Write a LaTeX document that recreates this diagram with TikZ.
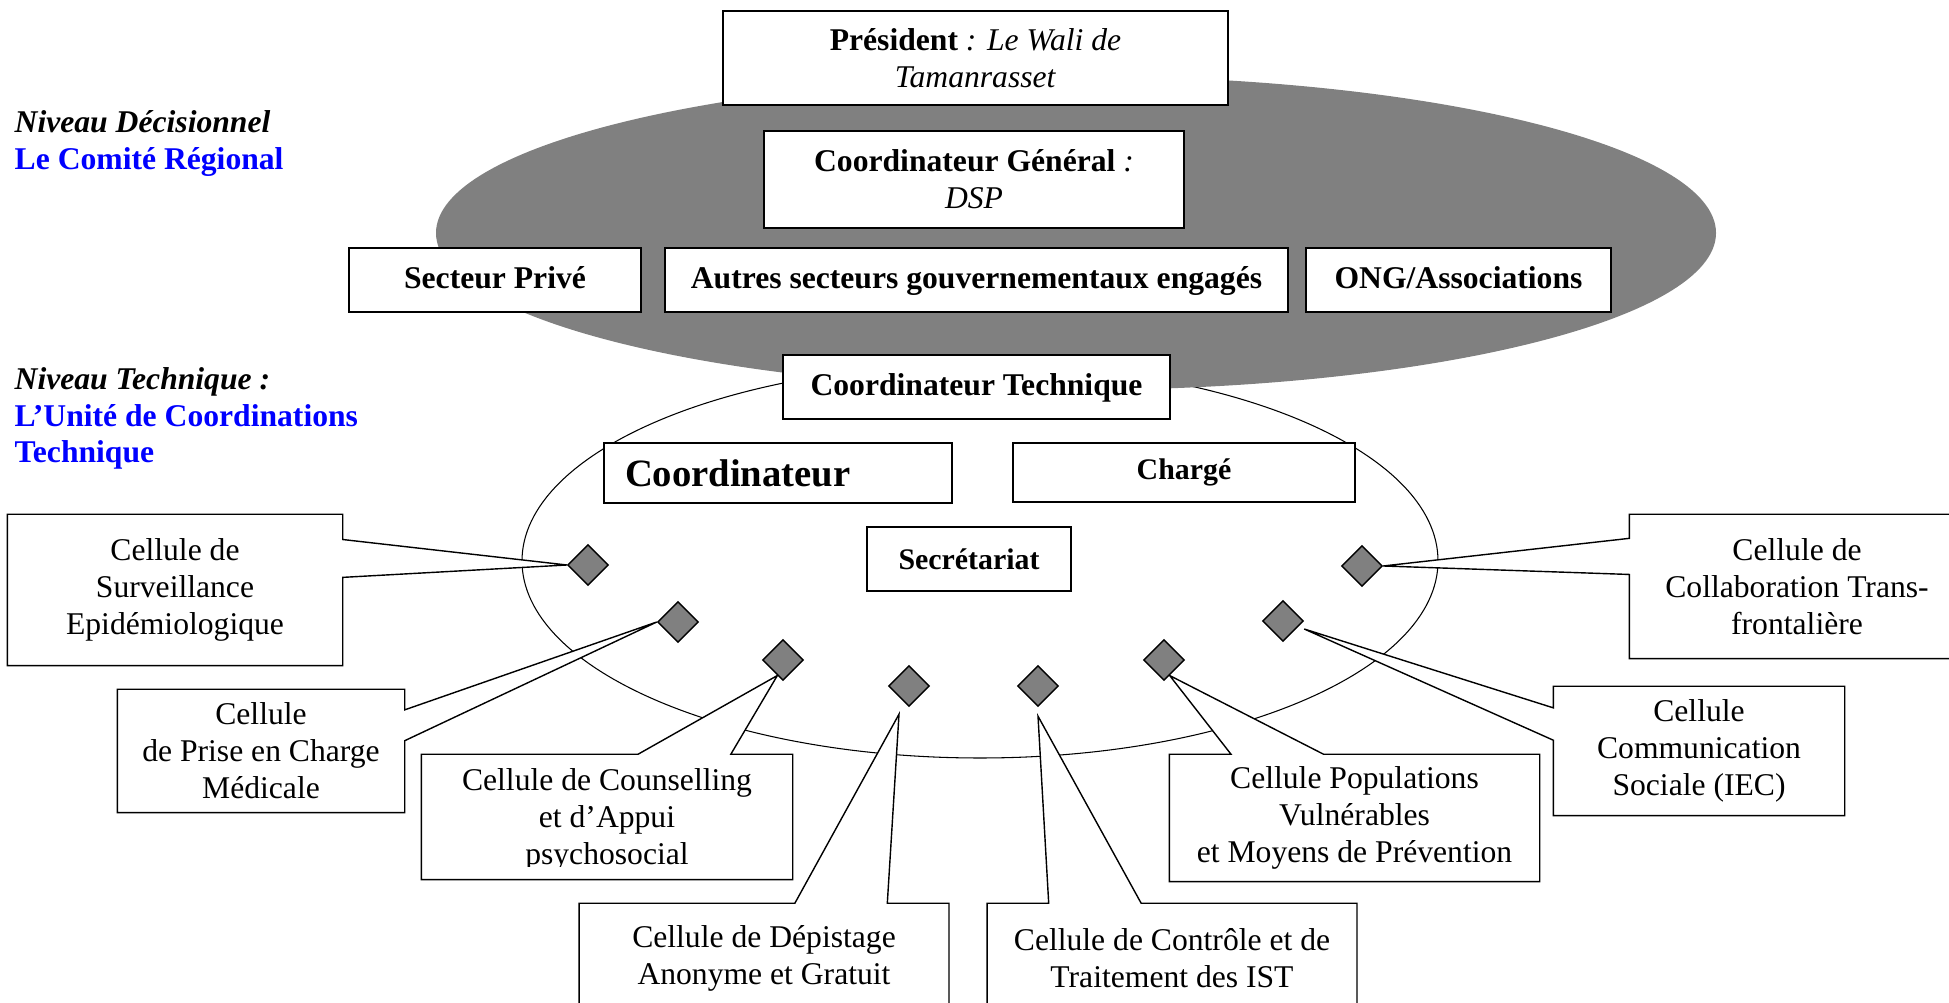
\documentclass[tikz,border=0pt]{standalone}
\usepackage{fontspec}
\setmainfont{Liberation Serif}
\usetikzlibrary{calc,shapes.geometric}
\definecolor{ellgray}{gray}{0.5}
\tikzset{font=\fontsize{9}{10.5}\selectfont}
\tikzset{
  box/.style={draw, fill=white, line width=0.5pt, inner sep=0pt, align=center},
  oneline/.style={text height=0.7em, text depth=0.22em, font=\fontsize{9}{10.5}\selectfont\bfseries},
  cellbox/.style={inner sep=0pt, align=center},
  cellline/.style={draw, fill=white, line width=0.4pt},
  losange/.style={diamond, draw, fill=ellgray, line width=0.4pt, minimum width=0.41cm, minimum height=0.41cm, inner sep=0pt},
  niveau/.style={anchor=base west, inner sep=0pt, align=left, font=\fontsize{9}{10.5}\selectfont\bfseries}
}
\pgfdeclarelayer{back}
\pgfdeclarelayer{cells}
\pgfsetlayers{back,cells,main}

\begin{document}
\begin{tikzpicture}
  \useasboundingbox (0,0) rectangle (19.49,-10.03);
  \clip (0,0) rectangle (19.49,-10.03);
  \begin{pgfonlayer}{back}
    \draw[line width=0.3pt] (9.80,-5.61) ellipse (4.58cm and 1.97cm);
    \fill[ellgray] (10.76,-2.33) ellipse (6.40cm and 1.57cm);
  \end{pgfonlayer}

  % niveaux
  \node[niveau] (nivdec) at (0.14,-1.33) {\textit{Niveau Décisionnel}};
  \node[niveau, text=blue] (comite) at (0.14,-1.70) {Le Comité Régional};
  \node[niveau] (nivtech) at (0.14,-3.90) {\textit{Niveau Technique :}};
  \node[niveau, text=blue] (unite) at (0.14,-4.63) {L’Unité de Coordinations\\Technique};

  % comite regional
  \node[box, minimum width=5.05cm, minimum height=0.94cm] (pres) at (9.755,-0.58)
    {\textbf{Président} \textit{: Le Wali de}\\\textit{Tamanrasset}};
  \node[box, minimum width=4.20cm, minimum height=0.97cm] (cgen) at (9.74,-1.795)
    {\textbf{Coordinateur Général} \textit{:}\\\textit{DSP}};
  \node[box, oneline, minimum width=2.92cm, minimum height=0.64cm] (prive) at (4.95,-2.80) {Secteur Privé};
  \node[box, oneline, minimum width=6.23cm, minimum height=0.64cm] (autres) at (9.765,-2.80) {Autres secteurs gouvernementaux engagés};
  \node[box, oneline, minimum width=3.05cm, minimum height=0.64cm] (ong) at (14.585,-2.80) {ONG/Associations};

  % unite technique
  \node[box, oneline, minimum width=3.87cm, minimum height=0.64cm] (ctech) at (9.765,-3.87) {Coordinateur Technique};
  \node[box, minimum height=0.60cm, text width=3.06cm, inner xsep=0.21cm, align=left, font=\fontsize{11}{13}\selectfont\bfseries] (coord) at (7.78,-4.73) {Coordinateur};
  \node[box, minimum width=3.42cm, minimum height=0.59cm, font=\fontsize{8.5}{10}\selectfont\bfseries] (charge) at (11.84,-4.725) {Chargé};
  \node[box, minimum width=2.04cm, minimum height=0.64cm, font=\fontsize{8.5}{10}\selectfont\bfseries] (secr) at (9.69,-5.59) {Secrétariat};

  % cellules
  \node[cellbox, minimum width=3.34cm, minimum height=1.50cm] (surv) at (1.75,-5.90) {Cellule de\\Surveillance\\Epidémiologique};
  \node[cellbox, minimum width=2.86cm, minimum height=1.22cm] (prise) at (2.61,-7.51) {Cellule\\de Prise en Charge\\Médicale};
  \node[cellbox, minimum width=3.70cm, minimum height=1.24cm] (counsel) at (6.07,-8.17) {};
  \begin{scope}
    \clip (counsel.north west) rectangle ([yshift=0.13cm]counsel.south east);
    \node[cellbox] (counseltxt) at ([yshift=-0.03cm]counsel.center) {Cellule de Counselling\\et d’Appui\\psychosocial};
  \end{scope}
  \node[cellbox, minimum width=3.685cm, minimum height=1.09cm] (depist) at (7.64,-9.585) {Cellule de Dépistage\\Anonyme et Gratuit};
  \node[cellbox, minimum width=3.685cm, minimum height=1.09cm] (contr) at (11.72,-9.585) {Cellule de Contrôle et de\\Traitement des IST};
  \node[cellbox, minimum width=3.69cm, minimum height=1.26cm] (popul) at (13.545,-8.18) {Cellule Populations\\Vulnérables\\et Moyens de Prévention};
  \node[cellbox, minimum width=2.90cm, minimum height=1.28cm] (commu) at (16.99,-7.51) {Cellule\\Communication\\Sociale (IEC)};
  \node[cellbox, minimum width=3.34cm, minimum height=1.43cm] (collab) at (17.97,-5.865) {Cellule de\\Collaboration Trans-\\frontalière};

  \foreach \n/\x/\y in {dsurv/5.88/-5.65, dprise/6.78/-6.22, dcoun/7.83/-6.60, ddep/9.09/-6.86,
                        dctrl/10.38/-6.86, dpop/11.64/-6.60, dcom/12.83/-6.21, dcollab/13.62/-5.66}
    \node[losange] (\n) at (\x,\y) {};

  % bulles
  \begin{pgfonlayer}{cells}
    \draw[cellline] (surv.north west) -- (surv.north east) -- ($(surv.north east)!2/12!(surv.south east)$)
      -- (dsurv.west) -- ($(surv.north east)!5/12!(surv.south east)$) -- (surv.south east) -- (surv.south west) -- cycle;
    \draw[cellline] (prise.north west) -- (prise.north east) -- ($(prise.north east)!2/12!(prise.south east)$)
      -- (dprise.west) -- ($(prise.north east)!5/12!(prise.south east)$) -- (prise.south east) -- (prise.south west) -- cycle;
    \draw[cellline] (counsel.north west) -- ($(counsel.north west)!7/12!(counsel.north east)$) -- (dcoun.250)
      -- ($(counsel.north west)!10/12!(counsel.north east)$) -- (counsel.north east) -- (counsel.south east) -- (counsel.south west) -- cycle;
    \draw[cellline] (depist.north west) -- ($(depist.north west)!7/12!(depist.north east)$) -- ([shift={(-0.10,-0.07)}]ddep.south)
      -- ($(depist.north west)!10/12!(depist.north east)$) -- (depist.north east) -- (depist.south east) -- (depist.south west) -- cycle;
    \draw[cellline] (contr.north west) -- ($(contr.north west)!2/12!(contr.north east)$) -- ([yshift=-0.09cm]dctrl.south)
      -- ($(contr.north west)!5/12!(contr.north east)$) -- (contr.north east) -- (contr.south east) -- (contr.south west) -- cycle;
    \draw[cellline] (popul.north west) -- ($(popul.north west)!2/12!(popul.north east)$) -- (dpop.290)
      -- ($(popul.north west)!5/12!(popul.north east)$) -- (popul.north east) -- (popul.south east) -- (popul.south west) -- cycle;
    \draw[cellline] (commu.north west) -- (commu.north east) -- (commu.south east) -- (commu.south west)
      -- ($(commu.north west)!5/12!(commu.south west)$) -- ([yshift=-0.08cm]dcom.east) -- ($(commu.north west)!2/12!(commu.south west)$) -- cycle;
    \draw[cellline] (collab.north west) -- (collab.north east) -- (collab.south east) -- (collab.south west)
      -- ($(collab.north west)!5/12!(collab.south west)$) -- (dcollab.east) -- ($(collab.north west)!2/12!(collab.south west)$) -- cycle;
  \end{pgfonlayer}
\end{tikzpicture}
\end{document}
